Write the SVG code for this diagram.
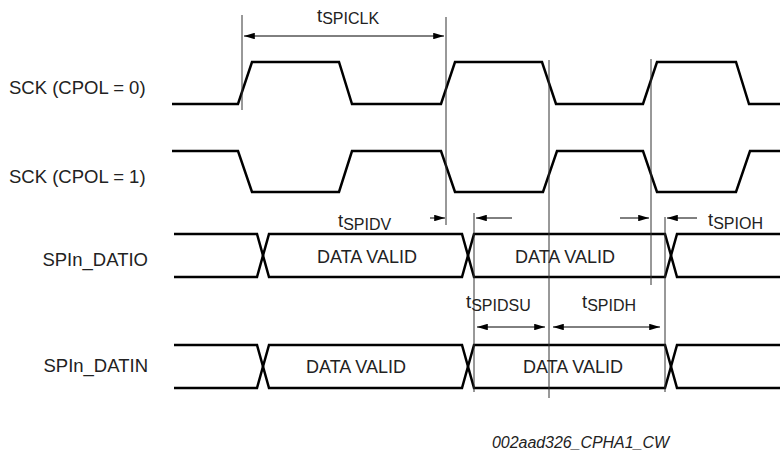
<svg xmlns="http://www.w3.org/2000/svg" width="780" height="455" viewBox="0 0 780 455">
<style>
.bg{fill:#fff}
.wave{fill:none;stroke:#000;stroke-width:2.5;stroke-linejoin:miter}
.ref{fill:none;stroke:#333;stroke-width:1}
.dim{fill:none;stroke:#000;stroke-width:1}
.lbl{font-family:"Liberation Sans",Arial,sans-serif;font-size:18.5px;fill:#222}
.val{font-family:"Liberation Sans",Arial,sans-serif;font-size:18px;fill:#222;text-anchor:middle}
.sub{font-size:16px}
.foot{font-family:"Liberation Sans",Arial,sans-serif;font-size:16px;font-style:italic;fill:#222}
</style>
<defs>
<marker id="ah" viewBox="0 0 10 6" refX="10" refY="3" markerWidth="11" markerHeight="6.5" markerUnits="userSpaceOnUse" orient="auto-start-reverse">
<path d="M0,0 L10,3 L0,6 Z" fill="#000"/>
</marker>
</defs>
<rect class="bg" width="780" height="455"/>

<g id="sck-cpol0">
<text class="lbl" x="9" y="94">SCK (CPOL = 0)</text>
<path class="wave" d="M172,104 H238 L252,62 H339 L352,104 H441 L455,62 H542 L556,104 H643 L657,62 H736 L749,104 H780"/>
</g>
<g id="sck-cpol1">
<text class="lbl" x="9" y="183">SCK (CPOL = 1)</text>
<path class="wave" d="M172,151 H238 L252,192 H339 L352,151 H441 L455,192 H543 L557,151 H643 L657,192 H736 L750,151 H780"/>
</g>
<g id="datio">
<text class="lbl" x="148" y="266" text-anchor="end">SPIn_DATIO</text>
<path class="wave" d="M174,234 H257 L269,277 H462 L474,234 H665 L677,277 H780"/>
<path class="wave" d="M174,277 H257 L269,234 H462 L474,277 H665 L677,234 H780"/>
<text class="val" x="367" y="263">DATA VALID</text>
<text class="val" x="565" y="263">DATA VALID</text>
</g>
<g id="datin">
<text class="lbl" x="148" y="372" text-anchor="end">SPIn_DATIN</text>
<path class="wave" d="M174,345 H257 L269,388 H462 L474,345 H665 L677,388 H780"/>
<path class="wave" d="M174,388 H257 L269,345 H462 L474,388 H665 L677,345 H780"/>
<text class="val" x="356" y="373">DATA VALID</text>
<text class="val" x="573" y="373">DATA VALID</text>
</g>

<g id="connectors">
<path class="ref" d="M242,15 V110"/>
<path class="ref" d="M446,17 V225"/>
<path class="ref" d="M549,60 V398"/>
<path class="ref" d="M651,59 V285"/>
<path class="ref" d="M474,213 V392"/>
<path class="ref" d="M665,217 V392"/>
<path class="dim" d="M244,36 H444" marker-start="url(#ah)" marker-end="url(#ah)"/>
<path class="dim" d="M430,218 H445" marker-end="url(#ah)"/>
<path class="dim" d="M512,218 H476" marker-end="url(#ah)"/>
<path class="dim" d="M620,218 H649" marker-end="url(#ah)"/>
<path class="dim" d="M697,218 H667" marker-end="url(#ah)"/>
<path class="dim" d="M477,327 H545" marker-start="url(#ah)" marker-end="url(#ah)"/>
<path class="dim" d="M553,327 H660" marker-start="url(#ah)" marker-end="url(#ah)"/>
</g>

<g id="timing-labels">
<text class="lbl" x="317" y="22">t<tspan class="sub" dy="2">SPICLK</tspan></text>
<text class="lbl" x="338" y="227">t<tspan class="sub" dy="2.5">SPIDV</tspan></text>
<text class="lbl" x="708" y="226">t<tspan class="sub" dy="2.5">SPIOH</tspan></text>
<text class="lbl" x="466" y="308">t<tspan class="sub" dy="3">SPIDSU</tspan></text>
<text class="lbl" x="582" y="308">t<tspan class="sub" dy="3">SPIDH</tspan></text>
</g>

<text class="foot" x="492" y="448" textLength="177" lengthAdjust="spacing">002aad326_CPHA1_CW</text>
</svg>
